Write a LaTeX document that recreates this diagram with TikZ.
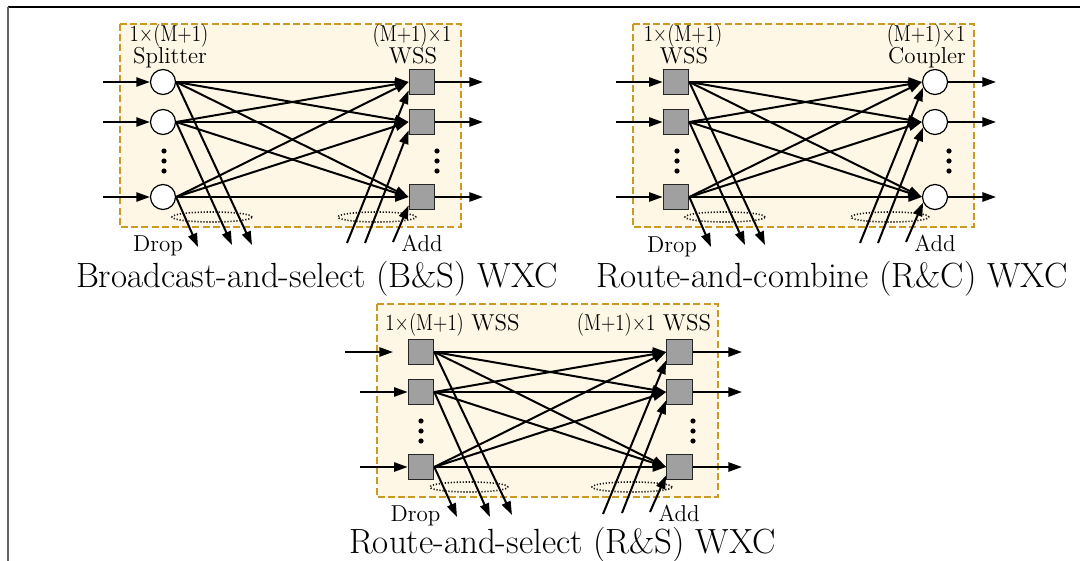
\documentclass[tikz,border=0pt]{standalone}
\usetikzlibrary{arrows.meta}
\definecolor{boxgold}{RGB}{204,153,34}
\definecolor{boxfill}{RGB}{255,247,230}
\definecolor{wssgray}{RGB}{160,160,160}
% port-count labels, set slightly condensed
\newcommand{\onetom}{\scalebox{0.82}[1]{1\texttimes(M+1)}}
\newcommand{\mtoone}{\scalebox{0.82}[1]{(M+1)\texttimes1}}
\tikzset{
  lbl/.style={font=\fontsize{11.5}{13}\selectfont, anchor=base, inner sep=0pt},
  captxt/.style={font=\fontsize{17.5}{20}\selectfont, anchor=base, inner sep=0pt},
  panelbox/.style={draw=boxgold, fill=boxfill, line width=0.9pt, dash pattern=on 3.5pt off 1.6pt},
  wss/.style={rectangle, draw=black!85, fill=wssgray, minimum size=12.75pt, inner sep=0pt, line width=0.6pt},
  coupler/.style={circle, draw=black, fill=white, minimum size=12.5pt, inner sep=0pt, line width=0.6pt},
  conn/.style={line width=1pt, -{Triangle[length=6.8pt,width=4.6pt]}},
  grp/.style={line width=0.8pt, draw=black!90, dash pattern=on 0.6pt off 0.9pt},
  vdot/.style={circle, fill=black, inner sep=0pt, minimum size=2.6pt},
}
\begin{document}
\begin{tikzpicture}[x=0.5pt,y=-0.5pt]
\useasboundingbox (0,0) rectangle (1080,561);
% page frame
\draw[line width=0.7pt] (8,7) -- (1080,7);
\draw[line width=1pt, black!60] (8,7) -- (8,561);

% ---------- Broadcast-and-select ----------
\draw[panelbox] (120,24) rectangle (461,227);
\foreach \i/\y in {1/82,2/122,3/197} {
  \node[coupler] (aL\i) at (163,\y) {};
  \node[wss] (aR\i) at (422,\y) {};
  \coordinate (aI\i) at (103,\y);
  \coordinate (aO\i) at (483,\y);
}
\coordinate (aD1) at (252,245);
\coordinate (aD2) at (232,245);
\coordinate (aD3) at (198,247);
\coordinate (aA1) at (347,243);
\coordinate (aA2) at (365,243);
\coordinate (aA3) at (393,242);
\draw[grp] (212,217) ellipse [x radius=20pt, y radius=2.5pt];
\draw[grp] (377,217) ellipse [x radius=19.5pt, y radius=2.5pt];
\foreach \i in {1,2,3} {
  \draw[conn] (aI\i) -- (aL\i.west);
  \draw[conn] (aR\i.east) -- (aO\i);
  \foreach \j in {1,2,3} \draw[conn] (aL\i.east) -- (aR\j.west);
  \draw[conn] (aL\i.east) -- (aD\i);
  \draw[conn] (aA\i) -- ([yshift=2.5pt]aR\i.south west);
}
\foreach \k/\y in {1/151,2/161,3/171} {
  \node[vdot] (aVL\k) at (164,\y) {};
  \node[vdot] (aVR\k) at (437,\y) {};
}
\node[lbl] (aT1) at (169,42) {\onetom};
\node[lbl] (aT2) at (170,64) {Splitter};
\node[lbl] (aT3) at (412,42) {\mtoone};
\node[lbl] (aT4) at (413,64) {WSS};
\node[lbl] (aDrop) at (158,251) {Drop};
\node[lbl] (aAdd) at (422,251) {Add};
\node[captxt] (aCap) at (317,287) {Broadcast-and-select (B\&S) WXC};

% ---------- Route-and-combine ----------
\draw[panelbox] (633,24) rectangle (974,227);
\foreach \i/\y in {1/82,2/122,3/197} {
  \node[wss] (bL\i) at (676,\y) {};
  \node[coupler] (bR\i) at (935,\y) {};
  \coordinate (bI\i) at (616,\y);
  \coordinate (bO\i) at (996,\y);
}
\coordinate (bD1) at (765,245);
\coordinate (bD2) at (745,245);
\coordinate (bD3) at (711,247);
\coordinate (bA1) at (860,243);
\coordinate (bA2) at (878,243);
\coordinate (bA3) at (906,242);
\draw[grp] (725,217) ellipse [x radius=20pt, y radius=2.5pt];
\draw[grp] (890,217) ellipse [x radius=19.5pt, y radius=2.5pt];
\foreach \i in {1,2,3} {
  \draw[conn] (bI\i) -- (bL\i.west);
  \draw[conn] (bR\i.east) -- (bO\i);
  \foreach \j in {1,2,3} \draw[conn] (bL\i.east) -- (bR\j.west);
  \draw[conn] (bL\i.east) -- (bD\i);
  \draw[conn] (bA\i) -- (bR\i.205);
}
\foreach \k/\y in {1/151,2/161,3/171} {
  \node[vdot] (bVL\k) at (677,\y) {};
  \node[vdot] (bVR\k) at (949,\y) {};
}
\node[lbl] (bT1) at (683,42) {\onetom};
\node[lbl] (bT2) at (684,64) {WSS};
\node[lbl] (bT3) at (926,42) {\mtoone};
\node[lbl] (bT4) at (927,64) {Coupler};
\node[lbl] (bDrop) at (672,252) {Drop};
\node[lbl] (bAdd) at (935,251) {Add};
\node[captxt] (bCap) at (832,287) {Route-and-combine (R\&C) WXC};

% ---------- Route-and-select ----------
\draw[panelbox] (377,304) rectangle (718,497);
\foreach \i/\y in {1/352,2/392,3/467} {
  \node[wss] (cL\i) at (421,\y) {};
  \node[wss] (cR\i) at (679.5,\y) {};
  \coordinate (cO\i) at (742,\y);
}
\coordinate (cI1) at (345,352);
\coordinate (cE1) at (393,352);
\coordinate (cI2) at (360,392);
\coordinate (cI3) at (360,467);
\coordinate (cD1) at (512,515);
\coordinate (cD2) at (490,517);
\coordinate (cD3) at (457,517);
\coordinate (cA1) at (603,514);
\coordinate (cA2) at (622,513);
\coordinate (cA3) at (650,512);
\draw[grp] (469,487) ellipse [x radius=19.5pt, y radius=2.5pt];
\draw[grp] (632,487) ellipse [x radius=20pt, y radius=2.5pt];
\draw[conn] (cI1) -- (cE1);
\draw[conn] (cI2) -- (cL2.west);
\draw[conn] (cI3) -- (cL3.west);
\foreach \i in {1,2,3} {
  \draw[conn] (cR\i.east) -- (cO\i);
  \foreach \j in {1,2,3} \draw[conn] (cL\i.east) -- (cR\j.west);
  \draw[conn] (cL\i.east) -- (cD\i);
  \draw[conn] (cA\i) -- ([yshift=2.5pt]cR\i.south west);
}
\foreach \k/\y in {1/421,2/431,3/441} {
  \node[vdot] (cVL\k) at (421,\y) {};
  \node[vdot] (cVR\k) at (693,\y) {};
}
\node[lbl] (cT1) at (452.5,330) {\onetom{} WSS};
\node[lbl] (cT2) at (644,330) {\mtoone{} WSS};
\node[lbl] (cDrop) at (415.5,521) {Drop};
\node[lbl] (cAdd) at (679,521) {Add};
\node[captxt] (cCap) at (562.5,553) {Route-and-select (R\&S) WXC};
\end{tikzpicture}
\end{document}
